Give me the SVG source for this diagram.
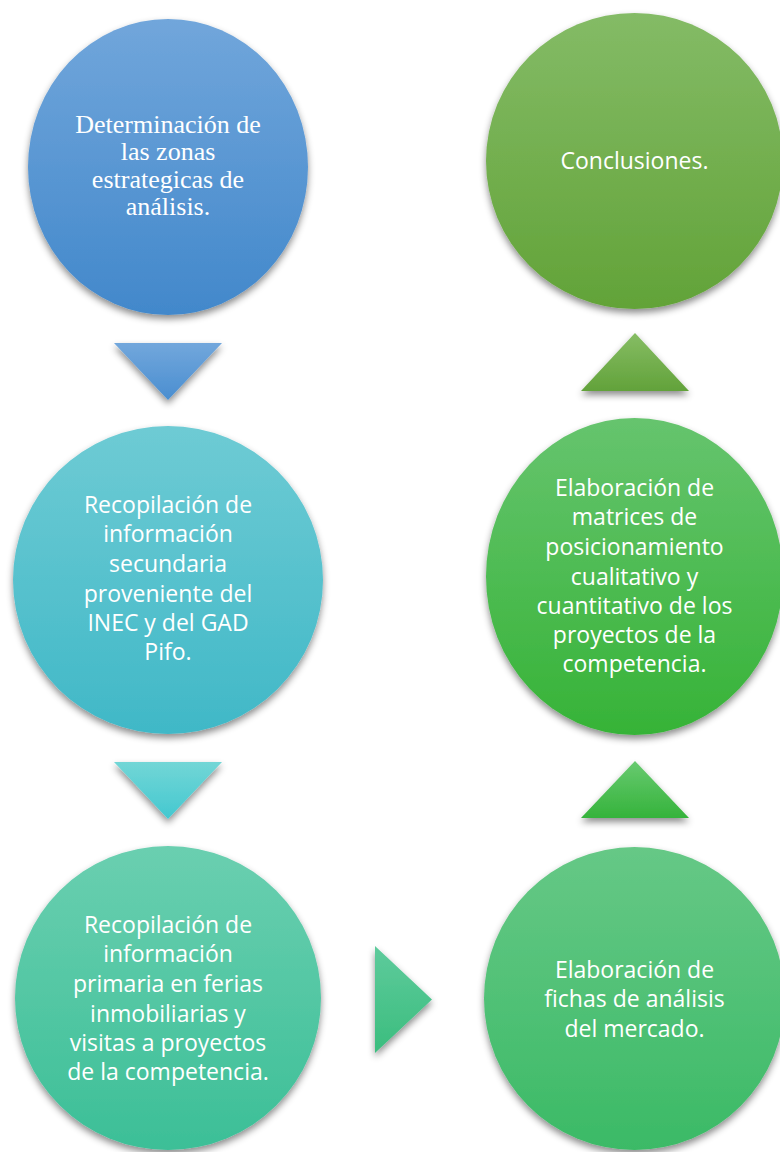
<svg xmlns="http://www.w3.org/2000/svg" width="780" height="1152" viewBox="0 0 780 1152">
<style>
.serif{font-family:"Liberation Serif","Times New Roman",serif;font-size:26px;fill:#fff;text-anchor:middle}
.sans{font-family:"Open Sans","Noto Sans",sans-serif;font-size:23px;fill:#fff;text-anchor:middle}
</style>
<defs>
<filter id="sh" x="-20%" y="-20%" width="140%" height="140%">
<feDropShadow dx="0" dy="4" stdDeviation="3.5" flood-color="#000" flood-opacity="0.45"/>
</filter>
<linearGradient id="g1" x1="0" y1="0" x2="0" y2="1"><stop offset="0" stop-color="#71a6db"/><stop offset="1" stop-color="#4288cb"/></linearGradient>
<linearGradient id="g2" x1="0" y1="0" x2="0" y2="1"><stop offset="0" stop-color="#84bb66"/><stop offset="1" stop-color="#62a338"/></linearGradient>
<linearGradient id="g3" x1="0" y1="0" x2="0" y2="1"><stop offset="0" stop-color="#6ecbd4"/><stop offset="1" stop-color="#40b8c7"/></linearGradient>
<linearGradient id="g4" x1="0" y1="0" x2="0" y2="1"><stop offset="0" stop-color="#66c46e"/><stop offset="1" stop-color="#36b337"/></linearGradient>
<linearGradient id="g5" x1="0" y1="0" x2="0" y2="1"><stop offset="0" stop-color="#6acfb0"/><stop offset="1" stop-color="#3cbf97"/></linearGradient>
<linearGradient id="g6" x1="0" y1="0" x2="0" y2="1"><stop offset="0" stop-color="#66c886"/><stop offset="1" stop-color="#3bba66"/></linearGradient>
<linearGradient id="t1" x1="0" y1="0" x2="0" y2="1"><stop offset="0" stop-color="#72a7dc"/><stop offset="1" stop-color="#4a8ed0"/></linearGradient>
<linearGradient id="t2" x1="0" y1="0" x2="0" y2="1"><stop offset="0" stop-color="#72d6d6"/><stop offset="1" stop-color="#44c8d0"/></linearGradient>
<linearGradient id="t3" x1="0" y1="0" x2="0" y2="1"><stop offset="0" stop-color="#86bd64"/><stop offset="1" stop-color="#62a23a"/></linearGradient>
<linearGradient id="t4" x1="0" y1="0" x2="0" y2="1"><stop offset="0" stop-color="#68ca70"/><stop offset="1" stop-color="#35b33b"/></linearGradient>
<linearGradient id="t5" x1="0" y1="0" x2="0" y2="1"><stop offset="0" stop-color="#5ecb9c"/><stop offset="1" stop-color="#3bbd7e"/></linearGradient>
</defs>
<rect width="780" height="1152" fill="#fff"/>
<g id="connectors">
<polygon points="114,343 222,343 168,400" fill="url(#t1)" filter="url(#sh)"/>
<polygon points="114,762 222,762 168,819" fill="url(#t2)" filter="url(#sh)"/>
<polygon points="375,946 432,999.5 375,1053" fill="url(#t5)" filter="url(#sh)"/>
<polygon points="635,761 689,818 581,818" fill="url(#t4)" filter="url(#sh)"/>
<polygon points="635,333 689,391 581,391" fill="url(#t3)" filter="url(#sh)"/>
</g>
<g id="n1">
<ellipse cx="168" cy="167" rx="140" ry="148" fill="url(#g1)" filter="url(#sh)"/>
<text class="serif"><tspan x="168" y="132.5">Determinación de</tspan><tspan x="168" y="160">las zonas</tspan><tspan x="168" y="187.5">estrategicas de</tspan><tspan x="168" y="215">análisis.</tspan></text>
</g>
<g id="n2">
<ellipse cx="634.5" cy="161" rx="148.5" ry="148" fill="url(#g2)" filter="url(#sh)"/>
<text class="sans"><tspan x="634.5" y="169">Conclusiones.</tspan></text>
</g>
<g id="n3">
<ellipse cx="168" cy="580" rx="155" ry="154" fill="url(#g3)" filter="url(#sh)"/>
<text class="sans"><tspan x="168" y="513">Recopilación de</tspan><tspan x="168" y="542">información</tspan><tspan x="168" y="572">secundaria</tspan><tspan x="168" y="602">proveniente del</tspan><tspan x="168" y="631">INEC y del GAD</tspan><tspan x="168" y="660">Pifo.</tspan></text>
</g>
<g id="n4">
<ellipse cx="634.5" cy="576.5" rx="148.5" ry="158.5" fill="url(#g4)" filter="url(#sh)"/>
<text class="sans"><tspan x="634.5" y="496">Elaboración de</tspan><tspan x="634.5" y="525">matrices de</tspan><tspan x="634.5" y="555">posicionamiento</tspan><tspan x="634.5" y="585">cualitativo y</tspan><tspan x="634.5" y="614">cuantitativo de los</tspan><tspan x="634.5" y="643">proyectos de la</tspan><tspan x="634.5" y="672">competencia.</tspan></text>
</g>
<g id="n5">
<ellipse cx="168" cy="998" rx="153" ry="152" fill="url(#g5)" filter="url(#sh)"/>
<text class="sans"><tspan x="168" y="933">Recopilación de</tspan><tspan x="168" y="962">información</tspan><tspan x="168" y="992">primaria en ferias</tspan><tspan x="168" y="1022">inmobiliarias y</tspan><tspan x="168" y="1051">visitas a proyectos</tspan><tspan x="168" y="1080">de la competencia.</tspan></text>
</g>
<g id="n6">
<ellipse cx="634.5" cy="998.5" rx="150.5" ry="151.5" fill="url(#g6)" filter="url(#sh)"/>
<text class="sans"><tspan x="634.5" y="977.5">Elaboración de</tspan><tspan x="634.5" y="1007">fichas de análisis</tspan><tspan x="634.5" y="1036.5">del mercado.</tspan></text>
</g>
</svg>
